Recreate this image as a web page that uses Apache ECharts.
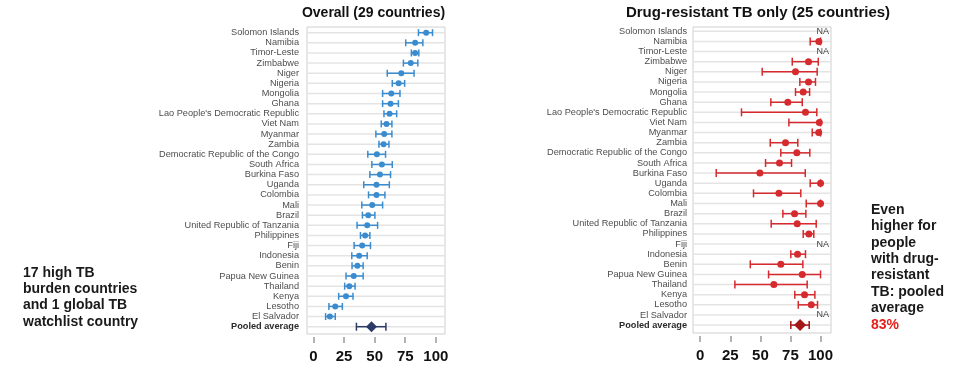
<!DOCTYPE html>
<html>
<head>
<meta charset="utf-8">
<script src="https://cdn.jsdelivr.net/npm/echarts@6/dist/echarts.min.js"></script>
<style>
  html, body { margin: 0; padding: 0; background: #fff; }
  #chart { width: 962px; height: 366px; }
</style>
</head>
<body>
<div id="chart"></div>
<script>
// Row labels, top to bottom; the last row is the pooled estimate
const countries = [
  'Solomon Islands', 'Namibia', 'Timor-Leste', 'Zimbabwe', 'Niger', 'Nigeria',
  'Mongolia', 'Ghana', "Lao People's Democratic Republic", 'Viet Nam', 'Myanmar',
  'Zambia', 'Democratic Republic of the Congo', 'South Africa', 'Burkina Faso',
  'Uganda', 'Colombia', 'Mali', 'Brazil', 'United Republic of Tanzania',
  'Philippines', 'Fiji', 'Indonesia', 'Benin', 'Papua New Guinea', 'Thailand',
  'Kenya', 'Lesotho', 'El Salvador', 'Pooled average'
];

// Overall (29 countries): estimate and 95% interval, in %
const overallEst = [92.1, 83.1, 83.1, 79.5, 71.8, 69.6, 63.6, 63.0, 62.2, 59.7, 57.8,
  57.3, 51.8, 55.9, 54.3, 51.5, 51.5, 48.0, 44.7, 43.9, 42.2, 39.8, 37.3, 35.9, 32.9,
  29.3, 26.6, 17.8, 13.4, 47.4];
const overallLo = [85.8, 75.4, 80.0, 73.5, 60.3, 64.4, 56.5, 56.5, 57.6, 55.4, 51.0,
  53.5, 44.4, 47.7, 46.1, 41.1, 45.0, 39.5, 40.0, 35.6, 38.4, 33.2, 31.3, 31.5, 26.6,
  25.5, 20.6, 12.6, 9.9, 35.1];
const overallHi = [97.3, 89.4, 86.1, 85.3, 82.2, 74.5, 70.7, 69.4, 68.0, 64.1, 64.1,
  61.7, 58.9, 64.4, 63.0, 62.0, 58.4, 56.5, 50.2, 52.4, 46.1, 46.6, 43.9, 40.6, 40.6,
  34.0, 32.3, 23.6, 17.8, 59.2];

// Drug-resistant TB only (25 countries); null = not available
const drEst = [null, 98.6, null, 90.0, 79.2, 90.0, 85.6, 72.8, 87.5, 99.0, 98.5,
  70.9, 80.3, 65.9, 49.6, 100, 65.4, 100, 78.4, 80.6, 90.3, null, 80.9, 67.0, 84.8,
  61.2, 86.7, 92.3, null, 83];
const drLo = [null, 91.4, null, 76.5, 51.5, 82.8, 79.2, 58.7, 34.3, 73.7, 93.1,
  58.2, 67.0, 54.3, 13.3, 91.4, 44.3, 88.1, 68.7, 59.0, 85.6, null, 75.3, 41.6, 56.8,
  28.8, 78.6, 81.5, null, 75.3];
const drHi = [null, 100, null, 98.1, 97.2, 95.8, 90.9, 84.8, 96.9, 100, 100,
  81.1, 91.1, 75.9, 87.3, 100, 83.6, 100, 87.8, 96.4, 94.4, null, 87.5, 85.3, 100,
  88.9, 95.3, 97.5, null, 90.6];

// Axis tick labels
const xTicks = [0, 25, 50, 75, 100];

const rows = countries.map((_, i) => i);
const pooledRow = countries.length - 1;
const FONT = '"Liberation Sans", Arial, sans-serif';

const BLUE = '#3a8ccf', NAVY = '#2c3a66';
const RED = '#d52a2e', DARKRED = '#a51616';

function rowData(est, lo, hi, pooled) {
  const pts = [], bars = [];
  rows.forEach(i => {
    if ((i === pooledRow) !== pooled || est[i] == null) return;
    pts.push([est[i], i]);
    bars.push([lo[i], hi[i], i]);
  });
  return { pts, bars };
}

// horizontal grid line through every row
function gridLines(xi) {
  return {
    type: 'custom', xAxisIndex: xi, yAxisIndex: xi, silent: true, z: 1,
    data: rows.map(i => [0, i]), encode: { x: 0, y: 1 },
    renderItem(params, api) {
      const cs = params.coordSys;
      const y = api.coord([0, api.value(1)])[1];
      return { type: 'line', shape: { x1: cs.x, y1: y, x2: cs.x + cs.width, y2: y },
        style: { stroke: '#e4e4e4', lineWidth: 1.5 } };
    }
  };
}

// interval whisker with end caps
function whiskers(xi, data, color, cap, width) {
  return {
    type: 'custom', xAxisIndex: xi, yAxisIndex: xi, silent: true, z: 3,
    data, encode: { x: [0, 1], y: 2 },
    renderItem(params, api) {
      const a = api.coord([api.value(0), api.value(2)]);
      const b = api.coord([api.value(1), api.value(2)]);
      const st = { stroke: color, lineWidth: width };
      return { type: 'group', children: [
        { type: 'line', shape: { x1: a[0], y1: a[1], x2: b[0], y2: b[1] }, style: st },
        { type: 'line', shape: { x1: a[0], y1: a[1] - cap, x2: a[0], y2: a[1] + cap }, style: st },
        { type: 'line', shape: { x1: b[0], y1: b[1] - cap, x2: b[0], y2: b[1] + cap }, style: st }
      ] };
    }
  };
}

function points(xi, data, color, symbol, size) {
  return { type: 'scatter', xAxisIndex: xi, yAxisIndex: xi, silent: true, z: 4,
    data, symbol, symbolSize: size, itemStyle: { color, opacity: 1 } };
}

const ov = rowData(overallEst, overallLo, overallHi, false);
const ovP = rowData(overallEst, overallLo, overallHi, true);
const dr = rowData(drEst, drLo, drHi, false);
const drP = rowData(drEst, drLo, drHi, true);
const naRows = rows.filter(i => drEst[i] == null).map(i => [107, i]);

function xAxis(gi, min, max) {
  return {
    gridIndex: gi, type: 'value', position: 'bottom', min, max, offset: 3,
    axisLine: { show: false, onZero: false }, splitLine: { show: false },
    axisTick: { show: true, length: 6, customValues: xTicks, lineStyle: { color: '#9a9a9a', width: 1.5 } },
    axisLabel: { customValues: xTicks, margin: 12, fontFamily: FONT, fontSize: 15, fontWeight: 'bold', color: '#111' }
  };
}
function yAxis(gi, min, max, margin) {
  return {
    gridIndex: gi, type: 'value', inverse: true, min, max,
    axisLine: { show: false, onZero: false }, axisTick: { show: false }, splitLine: { show: false },
    axisLabel: {
      customValues: rows, margin, fontFamily: FONT, fontSize: 9.2, color: '#4d4d4d',
      formatter: v => v === pooledRow ? '{b|' + countries[v] + '}' : countries[v],
      rich: { b: { fontFamily: FONT, fontSize: 9.2, fontWeight: 'bold', color: '#2a2a2a' } }
    }
  };
}

const gridStyle = { show: true, borderColor: '#cfcfcf', borderWidth: 1, backgroundColor: '#fff' };

const chart = echarts.init(document.getElementById('chart'), null, { renderer: 'canvas' });
chart.setOption({
  backgroundColor: '#fff',
  animation: false,
  grid: [
    Object.assign({ left: 307, top: 27, width: 138, height: 307 }, gridStyle),
    Object.assign({ left: 693, top: 27, width: 138, height: 306 }, gridStyle)
  ],
  xAxis: [xAxis(0, -5.3, 107.5), xAxis(1, -6, 108.7)],
  yAxis: [yAxis(0, -0.56, 29.72, 8), yAxis(1, -0.42, 29.78, 6)],
  series: [
    gridLines(0), gridLines(1),
    whiskers(0, ov.bars, BLUE, 3.5, 1.5),
    points(0, ov.pts, BLUE, 'circle', 6),
    whiskers(0, ovP.bars, NAVY, 4, 1.5),
    points(0, ovP.pts, NAVY, 'diamond', 11),
    whiskers(1, dr.bars, RED, 4, 1.5),
    points(1, dr.pts, RED, 'circle', 7),
    whiskers(1, drP.bars, DARKRED, 4, 1.5),
    points(1, drP.pts, DARKRED, 'diamond', 12),
    {
      type: 'custom', xAxisIndex: 1, yAxisIndex: 1, silent: true, z: 5,
      data: naRows, encode: { x: 0, y: 1 },
      renderItem(params, api) {
        const p = api.coord([api.value(0), api.value(1)]);
        return { type: 'text', x: p[0], y: p[1], style: { text: 'NA', fill: '#444',
          font: '9px ' + FONT, align: 'right', verticalAlign: 'middle' } };
      }
    }
  ],
  graphic: [
    { type: 'text', x: 373.5, y: 13, style: { text: 'Overall (29 countries)', fill: '#111',
      font: 'bold 14px ' + FONT, align: 'center', verticalAlign: 'middle' } },
    { type: 'text', x: 758, y: 13, style: { text: 'Drug-resistant TB only (25 countries)', fill: '#111',
      font: 'bold 15px ' + FONT, align: 'center', verticalAlign: 'middle' } },
    { type: 'text', x: 23, y: 265.3, style: {
      text: '17 high TB\nburden countries\nand 1 global TB\nwatchlist country',
      fill: '#1a1a1a', font: 'bold 14px ' + FONT, lineHeight: 16.1, align: 'left', verticalAlign: 'top' } },
    { type: 'text', x: 871, y: 201.8, style: {
      text: 'Even\nhigher for\npeople\nwith drug-\nresistant\nTB: pooled\naverage\n{r|83%}',
      fill: '#1a1a1a', font: 'bold 14px ' + FONT, lineHeight: 16.4, align: 'left', verticalAlign: 'top',
      rich: { r: { fill: '#e3201b', font: 'bold 14px ' + FONT, lineHeight: 16.4 } } } }
  ]
});
</script>
</body>
</html>
